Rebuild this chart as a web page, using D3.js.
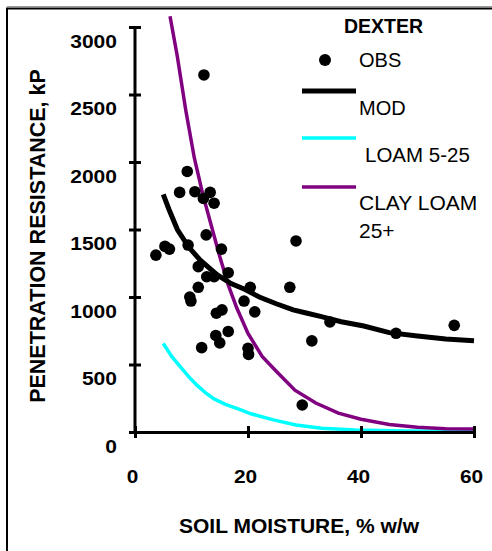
<!DOCTYPE html>
<html>
<head>
<meta charset="utf-8">
<script src="https://cdn.jsdelivr.net/npm/d3@7"></script>
<style>
  body { margin: 0; background: #fff; }
  text { font-family: Arial, "Liberation Sans", sans-serif; fill: #000; }
</style>
</head>
<body>
<div class="chart"></div>
<script>
// observed points (soil moisture %, penetration resistance kP)
const obsX = [3.7, 5.3, 6.1, 7.9, 9.25, 9.4, 9.7, 9.9, 10.6, 11.2, 11.2, 11.8, 12.1, 12.2, 12.6, 12.7, 13.3, 14.0, 14.0, 14.4,
              14.3, 15.0, 15.3, 15.4, 16.5, 16.5, 19.3, 20.0, 20.1, 20.4, 21.2, 27.4, 28.5, 29.6, 31.3, 34.5, 46.2, 56.5]
const obsY = [1310, 1375, 1355, 1775, 1930, 1385, 1000, 970, 1780, 1225, 1072, 625, 1730, 2645, 1460, 1150, 1775, 1695, 1150, 880,
              715, 660, 1355, 905, 1180, 745, 970, 620, 575, 1072, 890, 1072, 1415, 200, 675, 815, 731, 790]

// model curve
const modX = [5, 6, 7.5, 9.5, 11.5, 14.5, 17, 19.5, 22, 25, 28, 30.5, 33, 36.5, 40.5, 45, 50, 55, 60]
const modY = [1760, 1650, 1500, 1370, 1275, 1165, 1100, 1055, 1000, 950, 905, 880, 855, 817, 785, 736, 711, 689, 676]

// loam 5-25
const loamX = [5, 6.5, 8, 9.5, 11, 12.5, 14, 16, 18.5, 20.5, 24.5, 28.5, 33, 39, 48, 60]
const loamY = [655, 560, 484, 410, 345, 290, 245, 205, 168, 135, 90, 52, 28, 15, 7, 3]

// clay loam 25+
const clayX = [6.2, 7.5, 9, 10.5, 12, 13.5, 15, 16.5, 18, 20, 22.5, 25, 28.3, 32, 36, 40, 45, 50, 55, 60]
const clayY = [3080, 2780, 2380, 2030, 1760, 1530, 1300, 1090, 920, 730, 560, 450, 310, 215, 140, 95, 55, 35, 24, 22]

const xTicks = [0, 20, 40, 60]
const yTicks = [0, 500, 1000, 1500, 2000, 2500, 3000]

const W = 492, H = 551

const svg = d3.select('.chart').append('svg')
    .attr('width', W)
    .attr('height', H)

// frame
svg.append('line')
    .attr('x1', 7).attr('x2', W).attr('y1', 6.5).attr('y2', 6.5)
    .attr('stroke', '#9a9a9a').attr('stroke-width', 1)
svg.append('rect')
    .attr('x', 7).attr('y', 8.5)
    .attr('width', W + 10).attr('height', H + 10)
    .attr('fill', 'none').attr('stroke', '#000').attr('stroke-width', 2)

const xScale = d3.scaleLinear().domain([0, 60]).range([135, 474])
const yScale = d3.scaleLinear().domain([0, 3000]).range([432, 27])

// series lines
const line = d3.line().x(d => xScale(d[0])).y(d => yScale(d[1]))
const toPts = (xs, ys) => xs.map((v, i) => [v, ys[i]])

svg.append('path')
    .datum(toPts(loamX, loamY))
    .attr('d', line)
    .attr('fill', 'none').attr('stroke', '#00ffff').attr('stroke-width', 3.5)

svg.append('path')
    .datum(toPts(clayX, clayY))
    .attr('d', line)
    .attr('fill', 'none').attr('stroke', '#800080').attr('stroke-width', 3.5)

svg.append('path')
    .datum(toPts(modX, modY))
    .attr('d', line)
    .attr('fill', 'none').attr('stroke', '#000').attr('stroke-width', 5)

// axes
const fmt = d3.format('d')
const yAxis = d3.axisLeft(yScale).tickValues(yTicks).tickFormat(fmt).tickSize(6).tickSizeOuter(0).tickPadding(0)
const gy = svg.append('g').attr('transform', 'translate(135,0)').call(yAxis)
gy.select('.domain').attr('stroke-width', 3).attr('d', 'M0,' + (yScale(0) + 2) + 'V' + (yScale(3000) - 1))
gy.selectAll('.tick line').attr('x1', 6).attr('x2', -6).attr('stroke-width', 3)
gy.selectAll('.tick text')
    .attr('x', -18).attr('dy', 0).attr('y', 20)
    .style('font-size', '19px').style('font-weight', 'bold')
    .attr('textLength', d => fmt(d).length * 11.7)
    .attr('lengthAdjust', 'spacingAndGlyphs')

const xAxis = d3.axisBottom(xScale).tickValues(xTicks).tickFormat(fmt).tickSize(6).tickSizeOuter(0).tickPadding(0)
const gx = svg.append('g').attr('transform', 'translate(0,432)').call(xAxis)
gx.select('.domain').attr('stroke-width', 3)
gx.selectAll('.tick line').attr('y1', -6).attr('y2', 6).attr('stroke-width', 3)
gx.selectAll('.tick text')
    .attr('x', -3).attr('y', 51).attr('dy', 0)
    .style('font-size', '19px').style('font-weight', 'bold')
    .attr('textLength', d => fmt(d).length * 11.6)
    .attr('lengthAdjust', 'spacingAndGlyphs')
svg.selectAll('.domain').attr('stroke', '#000')
svg.selectAll('.tick line').attr('stroke', '#000')

// observations
svg.append('g').selectAll('circle')
    .data(toPts(obsX, obsY))
    .enter()
    .append('circle')
    .attr('cx', d => xScale(d[0]))
    .attr('cy', d => yScale(d[1]))
    .attr('r', 5.8)
    .attr('fill', '#000')

// axis titles
svg.append('text')
    .attr('transform', 'translate(45,236) rotate(-90)')
    .attr('text-anchor', 'middle')
    .style('font-size', '21.5px').style('font-weight', 'bold')
    .text('PENETRATION RESISTANCE, kP')

svg.append('text')
    .attr('x', 299).attr('y', 533)
    .attr('text-anchor', 'middle')
    .style('font-size', '21px').style('font-weight', 'bold')
    .text('SOIL MOISTURE, % w/w')

// legend
const lg = svg.append('g')
lg.append('text').attr('x', 344).attr('y', 33)
    .style('font-size', '19.5px').style('font-weight', 'bold').text('DEXTER')
lg.append('circle').attr('cx', 325).attr('cy', 60).attr('r', 6).attr('fill', '#000')
lg.append('text').attr('x', 359).attr('y', 67).style('font-size', '20px').text('OBS')
lg.append('line').attr('x1', 302).attr('x2', 356).attr('y1', 91).attr('y2', 91)
    .attr('stroke', '#000').attr('stroke-width', 5)
lg.append('text').attr('x', 359).attr('y', 115).style('font-size', '20px').text('MOD')
lg.append('line').attr('x1', 302).attr('x2', 356).attr('y1', 138).attr('y2', 138)
    .attr('stroke', '#00ffff').attr('stroke-width', 3.5)
lg.append('text').attr('x', 365).attr('y', 162).style('font-size', '20.5px').text('LOAM 5-25')
lg.append('line').attr('x1', 302).attr('x2', 356).attr('y1', 187).attr('y2', 187)
    .attr('stroke', '#800080').attr('stroke-width', 3.5)
lg.append('text').attr('x', 359).attr('y', 210).style('font-size', '21px').text('CLAY LOAM')
lg.append('text').attr('x', 359).attr('y', 238).style('font-size', '21px').text('25+')
</script>
</body>
</html>
